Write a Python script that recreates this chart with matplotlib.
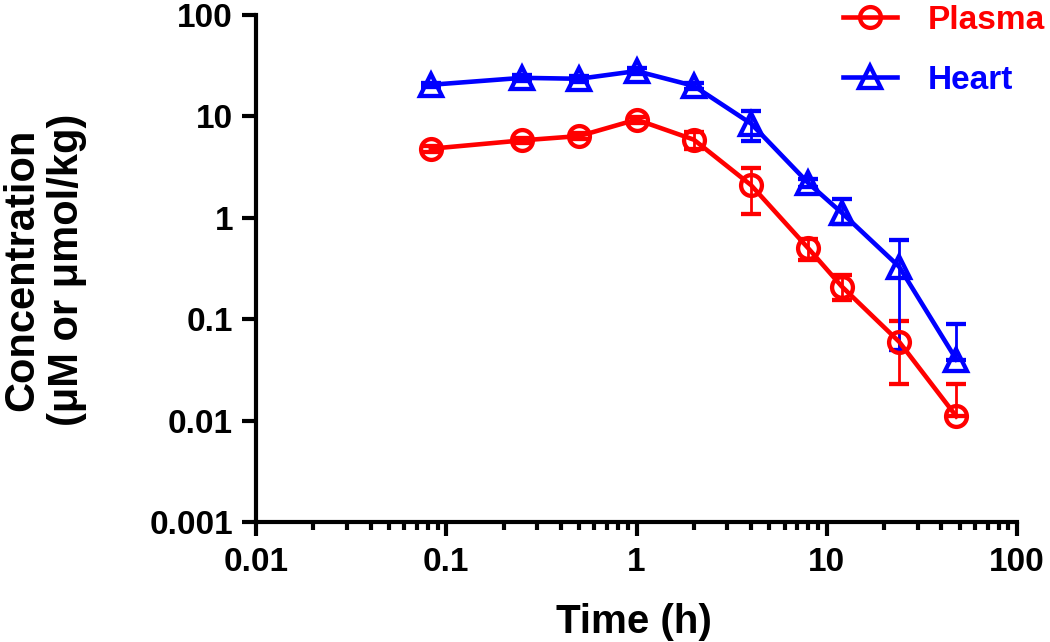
import matplotlib
matplotlib.use("Agg")
import matplotlib.pyplot as plt
from matplotlib.ticker import LogLocator, FixedLocator, NullFormatter, FixedFormatter
from matplotlib.lines import Line2D
import numpy as np

time_h = [0.083, 0.25, 0.5, 1, 2, 4, 8, 12, 24, 48]
plasma_mean = [4.8, 5.8, 6.4, 9.3, 5.9, 2.1, 0.5, 0.21, 0.06, 0.011]
plasma_sd_low = [0.3, 0.3, 0.4, 0.6, 1.15, 1.0, 0.12, 0.055, 0.037, 0.0]
plasma_sd_up = [0.3, 0.3, 0.4, 0.6, 1.15, 1.0, 0.12, 0.065, 0.037, 0.012]
heart_mean = [20.5, 24, 23.5, 28, 20, 8.5, 2.2, 1.12, 0.33, 0.04]
heart_sd_low = [1.0, 1.5, 1.5, 2.0, 1.5, 2.8, 0.2, 0.25, 0.28, 0.0]
heart_sd_up = [1.0, 1.5, 1.5, 2.0, 1.5, 2.8, 0.2, 0.4, 0.28, 0.049]

x_ticks = [0.01, 0.1, 1, 10, 100]
x_labels = ["0.01", "0.1", "1", "10", "100"]
y_ticks = [0.001, 0.01, 0.1, 1, 10, 100]
y_labels = ["0.001", "0.01", "0.1", "1", "10", "100"]

plt.rcParams['font.family'] = ['Liberation Sans', 'DejaVu Sans']
plt.rcParams['font.weight'] = 'bold'

W, H = 1050, 642
fig = plt.figure(figsize=(W / 100, H / 100), dpi=100)
ax = fig.add_axes([256 / W, 1 - 522 / H, 761 / W, 507 / H])

red = '#ff0000'
blue = '#0000ff'
common = dict(lw=3.3, mew=3.1, mfc='none', elinewidth=2, capsize=7, capthick=2)
ax.errorbar(time_h, plasma_mean, yerr=[plasma_sd_low, plasma_sd_up], color=red,
            marker='o', ms=15, zorder=3, clip_on=False, **common)
ax.errorbar(time_h, heart_mean, yerr=[heart_sd_low, heart_sd_up], color=blue,
            marker='^', ms=16, zorder=3, clip_on=False, **common)

ax.set_xscale('log')
ax.set_yscale('log')
ax.set_xlim(0.01, 100)
ax.set_ylim(0.001, 100)

ax.xaxis.set_major_locator(FixedLocator(x_ticks))
ax.xaxis.set_major_formatter(FixedFormatter(x_labels))
ax.xaxis.set_minor_locator(LogLocator(base=10, subs=np.arange(2, 10)))
ax.xaxis.set_minor_formatter(NullFormatter())
ax.yaxis.set_major_locator(FixedLocator(y_ticks))
ax.yaxis.set_major_formatter(FixedFormatter(y_labels))
ax.yaxis.set_minor_locator(FixedLocator([]))

for s in ['top', 'right']:
    ax.spines[s].set_visible(False)
for s in ['left', 'bottom']:
    ax.spines[s].set_linewidth(3)
ax.patch.set_alpha(0)

ax.tick_params(axis='both', which='major', direction='out', length=10, width=3,
               labelsize=24)
ax.tick_params(axis='y', which='major', pad=6.5)
ax.tick_params(axis='x', which='major', pad=8)
ax.tick_params(axis='x', which='minor', direction='out', length=5.5, width=3)
for lab in ax.get_xticklabels() + ax.get_yticklabels():
    lab.set_fontweight('bold')

fig.text(634 / W, 1 - 633 / H, 'Time (h)', fontsize=29, fontweight='bold',
         ha='center', va='baseline')
fig.text(45 / W, 1 - 270 / H, 'Concentration\n(μM or μmol/kg)', fontsize=30,
         fontweight='bold', rotation=90, ha='center', va='center',
         multialignment='center', linespacing=1.15)

handles = [Line2D([], [], color=red, lw=3.3, marker='o', ms=15, mew=3.1, mfc='none'),
           Line2D([], [], color=blue, lw=3.3, marker='^', ms=16, mew=3.1, mfc='none')]
leg = fig.legend(handles, ['Plasma', 'Heart'], loc='upper left',
                 bbox_to_anchor=(843 / W, 1 - 5 / H), bbox_transform=fig.transFigure,
                 frameon=False, fontsize=24, handlelength=1.62, labelspacing=0.86,
                 handletextpad=0.93, borderpad=0, borderaxespad=0,
                 labelcolor='linecolor')
for t in leg.get_texts():
    t.set_fontweight('bold')

fig.savefig('out.png', dpi=100)
